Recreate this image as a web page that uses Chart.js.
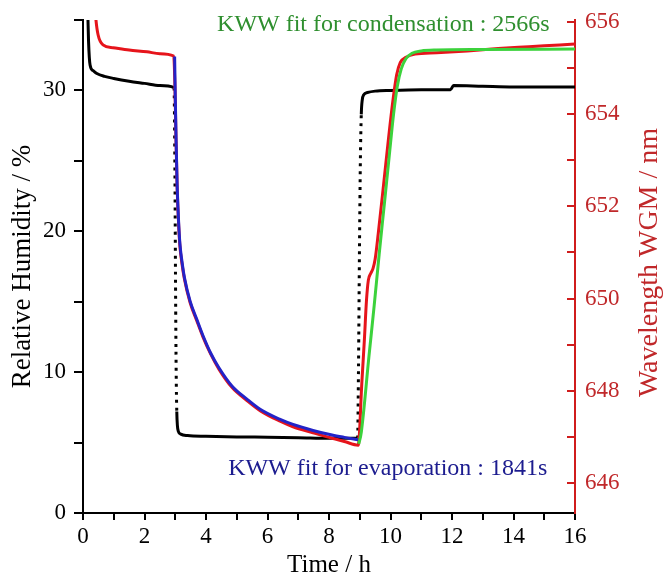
<!DOCTYPE html>
<html>
<head>
<meta charset="utf-8">
<script src="https://cdn.jsdelivr.net/npm/chart.js@4.4.1/dist/chart.umd.min.js"></script>
<style>
body { margin: 0; background: #fff; }
canvas { display: block; }
</style>
</head>
<body>
<canvas id="myChart" width="667" height="577"></canvas>
<script>
// relative humidity (black, left axis)
const rhTime = [0.16, 0.18, 0.23, 0.33, 0.45, 0.7, 1.0, 1.5, 2.0, 2.5, 2.96, 2.99, 3.01, 3.03, 3.05, 3.07, 3.1, 3.18, 3.4, 4.0, 5.0, 6.0, 7.0, 8.0, 8.93, 8.96, 8.99, 9.02, 9.05, 9.08, 9.13, 9.25, 9.5, 10.0, 11.0, 11.95, 12.05, 13.0, 14.0, 15.0, 16.0];
const rhValues = [35.2, 33.5, 31.8, 31.4, 31.2, 31.0, 30.85, 30.65, 30.5, 30.35, 30.2, 24.0, 16.0, 10.0, 7.2, 6.2, 5.8, 5.6, 5.5, 5.45, 5.4, 5.38, 5.35, 5.3, 5.3, 10.5, 18.5, 25.0, 28.3, 29.3, 29.7, 29.85, 29.95, 30.0, 30.05, 30.05, 30.35, 30.3, 30.25, 30.25, 30.25];

// WGM wavelength (red, right axis)
const wlTime = [0.36, 0.42, 0.49, 0.65, 0.98, 1.5, 2.08, 2.5, 2.95, 2.99, 3.02, 3.06, 3.1, 3.15, 3.22, 3.3, 3.48, 3.7, 3.9, 4.15, 4.42, 4.85, 5.33, 5.76, 6.41, 6.83, 7.48, 8.1, 8.5, 8.95, 9.07, 9.15, 9.22, 9.28, 9.36, 9.43, 9.5, 9.6, 9.78, 9.94, 10.08, 10.2, 10.32, 10.5, 10.8, 11.5, 12.5, 13.5, 14.5, 15.5, 16.0];
const wlValues = [656.6, 656.05, 655.72, 655.5, 655.44, 655.39, 655.35, 655.31, 655.26, 654.6, 653.6, 652.45, 651.75, 651.15, 650.75, 650.42, 649.92, 649.52, 649.17, 648.8, 648.47, 648.07, 647.79, 647.57, 647.34, 647.22, 647.09, 646.97, 646.9, 646.82, 648.2, 649.1, 649.97, 650.4, 650.55, 650.65, 650.85, 651.4, 652.5, 653.5, 654.3, 654.85, 655.12, 655.23, 655.3, 655.33, 655.37, 655.42, 655.46, 655.5, 655.52];

// KWW fit, evaporation (blue)
const evapTime = [2.98, 3.0, 3.03, 3.06, 3.1, 3.15, 3.22, 3.3, 3.48, 3.7, 3.9, 4.15, 4.42, 4.85, 5.33, 5.76, 6.41, 6.83, 7.48, 8.1, 8.5, 8.95];
const evapFit = [655.25, 654.4, 653.35, 652.5, 651.8, 651.2, 650.8, 650.45, 649.95, 649.55, 649.2, 648.82, 648.5, 648.1, 647.82, 647.6, 647.38, 647.27, 647.14, 647.04, 646.99, 646.94];

// KWW fit, condensation (green)
const condTime = [8.97, 9.05, 9.3, 9.47, 9.63, 9.8, 9.96, 10.1, 10.22, 10.35, 10.5, 10.7, 11.0, 11.5, 13.0, 16.0];
const condFit = [646.85, 647.1, 648.75, 649.85, 650.95, 652.05, 653.1, 654.0, 654.6, 654.98, 655.2, 655.32, 655.37, 655.39, 655.4, 655.41];

const timeTickLabels = [0, 2, 4, 6, 8, 10, 12, 14, 16];
const rhTickLabels = [0, 10, 20, 30];
const wlTickLabels = [646, 648, 650, 652, 654, 656];

const condLabel = 'KWW fit for condensation : 2566s';
const evapLabel = 'KWW fit for evaporation : 1841s';

const serif = '"Liberation Serif", "Times New Roman", serif';
const axisRed = '#d01c1c';

function pts(xs, ys) {
  return xs.map((x, i) => ({ x: x, y: ys[i] }));
}

function onlyLabels(list) {
  return function (value) {
    return list.includes(Math.round(value * 100) / 100) ? value : '';
  };
}

// steep parts of the RH trace look dotted (sparse points)
function steepDash(ctx) {
  const dy = Math.abs(ctx.p1.y - ctx.p0.y);
  const dx = Math.abs(ctx.p1.x - ctx.p0.x);
  return (dy > 25 && dy > 4 * dx) ? [3, 5] : undefined;
}

// fixed axis boxes so the plot area sits where the original one does
function fixWidth(w) {
  return function (scale) {
    scale.width = w;
    scale.paddingTop = 0;
    scale.paddingBottom = 0;
  };
}

const kwwText = {
  id: 'kwwText',
  afterDraw(chart) {
    const { ctx, scales } = chart;
    ctx.save();
    ctx.font = '24px ' + serif;
    ctx.textAlign = 'left';
    ctx.textBaseline = 'alphabetic';
    ctx.fillStyle = '#2f8f2f';
    ctx.fillText(condLabel, scales.x.getPixelForValue(4.36), scales.y1.getPixelForValue(655.8));
    ctx.fillStyle = '#1c1c8f';
    ctx.fillText(evapLabel, scales.x.getPixelForValue(4.72), scales.y1.getPixelForValue(646.17));

    // right axis title reads bottom to top
    const yc = (chart.chartArea.top + chart.chartArea.bottom) / 2 - 4;
    ctx.translate(scales.y1.right - 17, yc);
    ctx.rotate(-Math.PI / 2);
    ctx.textAlign = 'center';
    ctx.textBaseline = 'middle';
    ctx.fillStyle = '#c0282a';
    ctx.font = '28px ' + serif;
    ctx.fillText('Wavelength WGM / nm', 0, 0);
    ctx.restore();
  }
};

const config = {
  type: 'line',
  data: {
    datasets: [
      {
        label: 'KWW condensation',
        data: pts(condTime, condFit),
        yAxisID: 'y1',
        borderColor: '#3cd23c',
        borderWidth: 3,
        pointRadius: 0,
        cubicInterpolationMode: 'monotone',
        order: 0
      },
      {
        label: 'KWW evaporation',
        data: pts(evapTime, evapFit),
        yAxisID: 'y1',
        borderColor: '#2323c8',
        borderWidth: 3,
        pointRadius: 0,
        cubicInterpolationMode: 'monotone',
        order: 1
      },
      {
        label: 'Wavelength',
        data: pts(wlTime, wlValues),
        yAxisID: 'y1',
        borderColor: '#e6141b',
        borderWidth: 3,
        pointRadius: 0,
        cubicInterpolationMode: 'monotone',
        order: 2
      },
      {
        label: 'Relative humidity',
        data: pts(rhTime, rhValues),
        yAxisID: 'y',
        borderColor: '#000',
        borderWidth: 3,
        pointRadius: 0,
        cubicInterpolationMode: 'monotone',
        segment: { borderDash: steepDash },
        order: 3
      }
    ]
  },
  options: {
    responsive: false,
    animation: false,
    devicePixelRatio: 1,
    layout: { padding: { top: 20, left: 0, right: 0, bottom: 0 } },
    plugins: {
      legend: { display: false },
      tooltip: { enabled: false }
    },
    scales: {
      x: {
        type: 'linear',
        position: 'bottom',
        min: 0,
        max: 16,
        border: { color: '#000', width: 2 },
        grid: { drawOnChartArea: false, tickLength: 7, color: '#000', lineWidth: 2 },
        ticks: {
          stepSize: 1,
          autoSkip: false,
          maxRotation: 0,
          includeBounds: false,
          padding: 3,
          color: '#000',
          font: { family: serif, size: 23 },
          callback: onlyLabels(timeTickLabels)
        },
        title: {
          display: true,
          text: 'Time / h',
          color: '#000',
          font: { family: serif, size: 25, lineHeight: 1 },
          padding: { top: 0, bottom: -1 }
        },
        afterFit(scale) { scale.height = 64; }
      },
      y: {
        type: 'linear',
        position: 'left',
        min: 0,
        max: 35,
        border: { color: '#000', width: 2 },
        grid: { drawOnChartArea: false, tickLength: 9, color: '#000', lineWidth: 2 },
        ticks: {
          stepSize: 5,
          autoSkip: false,
          includeBounds: false,
          padding: 8,
          color: '#000',
          font: { family: serif, size: 23 },
          callback: onlyLabels(rhTickLabels)
        },
        title: {
          display: true,
          text: 'Relative Humidity / %',
          color: '#000',
          font: { family: serif, size: 27 },
          padding: { top: 7, bottom: 0 }
        },
        afterFit: fixWidth(83)
      },
      y1: {
        type: 'linear',
        position: 'right',
        min: 645.35,
        max: 656.04,
        border: { color: axisRed, width: 2 },
        grid: { drawOnChartArea: false, tickLength: -8, color: axisRed, lineWidth: 2 },
        ticks: {
          stepSize: 1,
          autoSkip: false,
          includeBounds: false,
          padding: 18,
          color: '#c0282a',
          font: { family: serif, size: 23 },
          callback: onlyLabels(wlTickLabels)
        },
        afterFit: fixWidth(92)
      }
    }
  },
  plugins: [kwwText]
};

const myChart = new Chart(document.getElementById('myChart'), config);
</script>
</body>
</html>
